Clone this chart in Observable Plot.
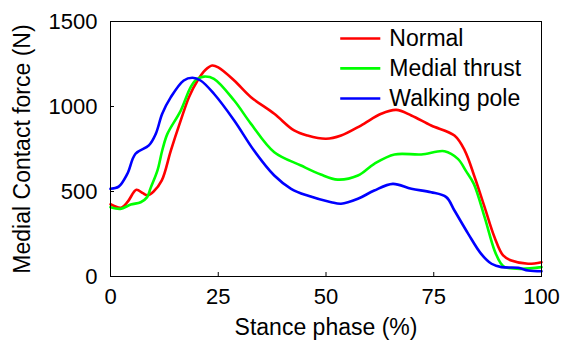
<!DOCTYPE html>
<html>
<head>
<meta charset="utf-8">
<script src="https://cdn.jsdelivr.net/npm/d3@7"></script>
<script src="https://cdn.jsdelivr.net/npm/@observablehq/plot@0.6"></script>
<style>
  html, body { margin: 0; padding: 0; background: #fff; }
  #chart svg { display: block; }
</style>
</head>
<body>
<div id="chart"></div>
<script>
const seriesNames = ["Normal", "Medial thrust", "Walking pole"];
const seriesColors = ["#ff0000", "#00ff00", "#0000ff"];

const normalX = [0, 2.5, 4, 6, 7.5, 8.6, 10, 11.9, 14, 16.3, 18.2, 20.2, 22, 23.6, 25, 28.7, 32.6, 38, 42.6, 45.7, 50, 53.5, 58.1, 62.8, 66.3, 69.8, 74.4, 79.8, 82.2, 84.5, 86.8, 89.1, 91.1, 93, 96.9, 100];
const normalY = [425, 405, 440, 510, 490, 478, 500, 565, 741, 918, 1055, 1153, 1215, 1241, 1230, 1153, 1055, 957, 859, 829, 810, 829, 888, 957, 980, 947, 888, 829, 741, 584, 408, 231, 124, 94, 75, 84];

const thrustX = [0, 2.3, 4.7, 7, 8.5, 9.3, 10.9, 12, 13.2, 16.3, 18.6, 20, 21.7, 24, 28.7, 32.6, 38, 44.2, 48.8, 52.7, 57.4, 61.2, 65.9, 72.1, 77.5, 80.6, 82.5, 84.3, 86.8, 89.1, 90.5, 91.5, 95.3, 100];
const thrustY = [408, 398, 423, 437, 467, 520, 624, 741, 839, 976, 1114, 1160, 1176, 1163, 1035, 898, 731, 653, 600, 570, 594, 663, 718, 718, 737, 692, 620, 545, 349, 153, 80, 55, 45, 55];

const poleX = [0, 1.9, 3.9, 5.8, 8.9, 10.5, 12, 14, 17, 19, 20.9, 24, 28.7, 33.3, 38, 41.9, 45.7, 51.2, 53.5, 57.4, 61.2, 65.5, 69.8, 74.4, 77.9, 79.8, 83, 86, 88.4, 90.7, 94.6, 96.9, 100];
const poleY = [516, 529, 604, 722, 771, 839, 957, 1055, 1153, 1169, 1153, 1075, 918, 741, 594, 516, 476, 437, 428, 457, 506, 545, 516, 496, 467, 388, 251, 133, 75, 55, 51, 35, 31];

const xTicks = [0, 25, 50, 75, 100];
const yTicks = [0, 500, 1000, 1500];
const xLabel = "Stance phase (%)";
const yLabel = "Medial Contact force (N)";

const allX = [normalX, thrustX, poleX];
const allY = [normalY, thrustY, poleY];
const rows = [];
seriesNames.forEach((name, i) => {
  allX[i].forEach((x, j) => rows.push({series: name, x, y: allY[i][j]}));
});

// legend rows (positioned in data space, upper right)
const legendRows = seriesNames.map((name, i) => ({name, i}));
const legendY = [1400, 1224, 1047];

const FONT = "'Liberation Sans', Arial, Helvetica, sans-serif";

const chart = Plot.plot({
  width: 566,
  height: 344,
  marginLeft: 110,
  marginRight: 25,
  marginTop: 21,
  marginBottom: 68,
  style: {fontFamily: FONT, background: "#fff", color: "#000"},
  x: {domain: [0, 100]},
  y: {domain: [0, 1500]},
  color: {domain: seriesNames, range: seriesColors},
  marks: [
    Plot.axisX({ticks: xTicks, tickSize: 0, tickPadding: 12, fontSize: 22, label: null, tickFormat: d => String(d)}),
    Plot.axisY({ticks: yTicks, tickSize: 0, tickPadding: 13, fontSize: 22, label: null, tickFormat: d => String(d)}),
    Plot.ruleX(xTicks, {x: d => d, y1: 0, y2: 1500 * 4 / 255, stroke: "#000", strokeWidth: 1}),
    Plot.ruleY(yTicks, {y: d => d, x1: 0, x2: 100 * 4 / 431, stroke: "#000", strokeWidth: 1}),
    Plot.line(rows, {x: "x", y: "y", z: "series", stroke: "series", strokeWidth: 2.6, curve: "catmull-rom"}),
    Plot.link(legendRows, {x1: 53.3, x2: 62.6, y1: d => legendY[d.i], y2: d => legendY[d.i], stroke: d => d.name, strokeWidth: 2.6}),
    Plot.text(legendRows, {x: 64.7, y: d => legendY[d.i], text: "name", textAnchor: "start", fontSize: 23, fill: "#000"}),
    Plot.text([xLabel], {frameAnchor: "bottom", dy: 58, fontSize: 23, fill: "#000"}),
    Plot.text([yLabel], {frameAnchor: "left", dx: -88, rotate: -90, textAnchor: "middle", fontSize: 23, fill: "#000"}),
    Plot.frame({stroke: "#000", strokeWidth: 1})
  ]
});
document.getElementById("chart").appendChild(chart);
</script>
</body>
</html>
